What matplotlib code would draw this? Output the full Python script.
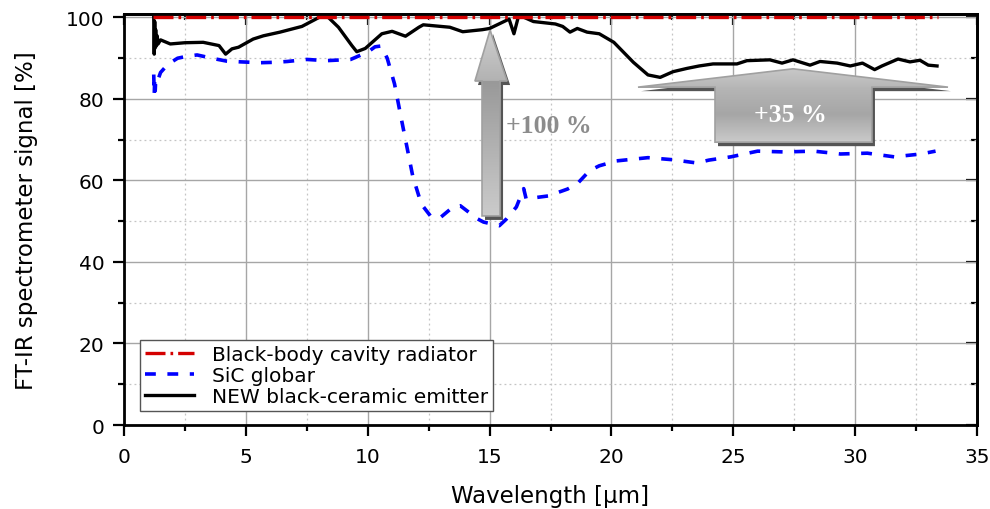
import numpy as np
import matplotlib
matplotlib.use('Agg')
import matplotlib.pyplot as plt
from matplotlib.patches import Polygon
from matplotlib.ticker import MultipleLocator
from matplotlib.colors import LinearSegmentedColormap
import matplotlib.transforms as mtransforms

# ---------------- data ----------------
red_x = [1.2, 33.4]
red_y = [100.0, 100.0]

blue_x = [1.22, 1.24, 1.26, 1.28, 1.30, 1.35, 1.5, 1.8, 2.2, 2.6, 3.0, 3.6, 4.2, 4.8,
          5.6, 6.2, 6.7, 7.5, 8.3, 9.3, 10.0, 10.3, 10.55, 10.8, 11.1, 11.4, 11.6,
          11.85, 12.2, 12.6, 13.0, 13.5, 13.8, 14.5, 14.75, 15.4, 15.7, 16.1, 16.4,
          16.5, 17.4, 18.2, 18.6, 19.1, 19.5, 20.2, 21.5, 22.5, 23.5, 24.0, 24.9,
          26.0, 27.1, 28.3, 29.4, 30.5, 31.6, 32.7, 33.3]
blue_y = [86.0, 81.0, 85.0, 82.0, 84.5, 84.0, 86.5, 88.5, 90.0, 90.5, 90.8, 90.0, 89.3,
          89.1, 88.9, 89.0, 89.2, 89.7, 89.4, 89.7, 91.5, 92.8, 93.0, 90.0, 83.7, 74.5,
          68.5, 61.0, 54.2, 51.1, 51.0, 53.5, 53.8, 50.6, 49.8, 48.9, 50.6, 53.5, 58.0,
          55.5, 56.2, 57.9, 59.2, 62.4, 63.6, 64.8, 65.6, 65.1, 64.3, 65.0, 65.8,
          67.2, 67.0, 67.2, 66.5, 66.7, 65.8, 66.5, 67.2]

black_x = [1.22, 1.24, 1.26, 1.28, 1.30, 1.33, 1.36, 1.40, 1.5, 1.9, 2.5, 3.25, 3.9,
           4.17, 4.43, 4.7, 5.3, 5.72, 6.4, 7.3, 8.0, 8.3, 8.8, 9.35, 9.55, 9.9,
           10.58, 11.0, 11.55, 12.1, 12.28, 13.37, 13.9, 14.7, 15.0, 15.8, 16.0,
           16.2, 16.8, 17.4, 17.7, 18.0, 18.3, 18.6, 19.0, 19.5, 20.1, 20.9, 21.5,
           22.0, 22.53, 23.1, 23.6, 24.17, 25.15, 25.56, 26.5, 27.0, 27.45, 28.15,
           28.56, 29.26, 29.8, 30.3, 30.8, 31.1, 31.76, 32.25, 32.66, 33.0, 33.36]
black_y = [100.0, 91.0, 99.0, 92.5, 97.0, 93.0, 95.5, 93.5, 94.5, 93.5, 93.8, 93.9, 93.1,
           91.0, 92.3, 92.7, 94.7, 95.5, 96.4, 97.8, 100.0, 100.5, 97.6, 93.1, 91.6,
           92.4, 96.0, 96.6, 95.4, 97.6, 98.2, 97.6, 96.5, 97.0, 97.3, 99.6, 96.0,
           100.6, 99.0, 98.6, 98.4, 97.8, 96.4, 97.3, 96.4, 96.0, 93.9, 89.0, 85.9,
           85.3, 86.7, 87.5, 88.1, 88.6, 88.6, 89.4, 89.6, 88.8, 89.6, 88.3,
           89.2, 88.8, 88.1, 88.8, 87.2, 88.1, 89.8, 89.1, 89.5, 88.3, 88.1]

labels = ['Black-body cavity radiator', 'SiC globar', 'NEW black-ceramic emitter']
x_ticks = [0, 5, 10, 15, 20, 25, 30, 35]
y_ticks = [0, 20, 40, 60, 80, 100]
ann_100 = '+100 %'
ann_35 = '+35 %'

# ---------------- figure ----------------
plt.rcParams['font.family'] = ['DejaVu Sans']
fig = plt.figure(figsize=(9.9, 5.1), dpi=100)
ax = fig.add_axes([124/990, 1 - 426/510, (977-124)/990, (426-15)/510])

ax.plot(red_x, red_y, color='#d40000', lw=2.4, ls=(0, (6.0, 1.5, 0.8, 1.5)),
        label=labels[0], zorder=4, solid_capstyle='butt', dash_capstyle='butt')
ax.plot(blue_x, blue_y, color='#0000ff', lw=2.6, ls=(0, (3.0, 3.2)),
        label=labels[1], zorder=3, dash_capstyle='butt')
ax.plot(black_x, black_y, color='black', lw=2.4, label=labels[2], zorder=3.5)

ax.set_xlim(0, 35)
ax.set_ylim(0, 100.85)
ax.set_xticks(x_ticks)
ax.set_yticks(y_ticks)
ax.xaxis.set_minor_locator(MultipleLocator(2.5))
ax.yaxis.set_minor_locator(MultipleLocator(10))

ax.set_axisbelow(True)
ax.grid(which='major', color='#a6a6a6', lw=1.0, ls='-')
ax.grid(which='minor', color='#c4c4c4', lw=0.9, ls=(0, (1.5, 2.5)))

for s in ax.spines.values():
    s.set_linewidth(2.0)
ax.tick_params(which='major', direction='out', length=8, width=1.6, labelsize=14.5, pad=6)
ax.tick_params(axis='x', which='major', pad=8)
ax.tick_params(which='minor', direction='out', length=4.5, width=1.6)

secx = ax.secondary_xaxis('top')
secx.set_xticks(x_ticks)
secx.xaxis.set_minor_locator(MultipleLocator(2.5))
secx.tick_params(which='major', direction='in', length=8, width=1.6, labeltop=False)
secx.tick_params(which='minor', direction='in', length=4, width=1.6)
secx.spines['top'].set_linewidth(2.0)
secy = ax.secondary_yaxis('right')
secy.set_yticks(y_ticks)
secy.yaxis.set_minor_locator(MultipleLocator(10))
secy.tick_params(which='major', direction='in', length=8, width=1.6, labelright=False)
secy.tick_params(which='minor', direction='in', length=4, width=1.6)
secy.spines['right'].set_linewidth(2.0)

ax.set_xlabel('Wavelength [\u03bcm]', fontsize=16.5, labelpad=13)
ax.set_ylabel('FT-IR spectrometer signal [%]', fontsize=16.5, labelpad=20)

leg = ax.legend(loc='lower left', bbox_to_anchor=(0.019, 0.034), borderaxespad=0,
                fontsize=14.5, frameon=True, fancybox=False, framealpha=1,
                handlelength=2.4, handletextpad=0.9, borderpad=0.25, labelspacing=0.1)
leg.get_frame().set_edgecolor('#555555')
leg.get_frame().set_linewidth(1.0)
leg.set_zorder(10)


def grad_arrow(verts, stops, edge='#a0a0a0'):
    ys = [v[1] for v in verts]
    xs = [v[0] for v in verts]
    y0, y1 = min(ys), max(ys)
    shadow_tr = mtransforms.offset_copy(ax.transData, fig=fig, x=3, y=-4, units='dots')
    sh = Polygon(verts, closed=True, facecolor='#555555', edgecolor='none',
                 transform=shadow_tr, zorder=5)
    ax.add_patch(sh)
    poly = Polygon(verts, closed=True, facecolor='none', edgecolor=edge, lw=1.2, zorder=7)
    ax.add_patch(poly)
    cm = LinearSegmentedColormap.from_list(
        'g', [((s - y0) / (y1 - y0), c) for s, c in stops])
    grad = np.linspace(0, 1, 256).reshape(-1, 1)
    im = ax.imshow(grad, extent=(min(xs), max(xs), y0, y1), origin='lower',
                   aspect='auto', cmap=cm, zorder=6, interpolation='bilinear')
    im.set_clip_path(poly)


# +100 % arrow
a_tip, a_hb, a_hl, a_hr, a_sl, a_sr, a_bot = (15.02, 96.9), 84.4, 14.4, 15.72, 14.69, 15.43, 51.3
grad_arrow([(a_sl, a_bot), (a_sr, a_bot), (a_sr, a_hb), (a_hr, a_hb), a_tip,
            (a_hl, a_hb), (a_sl, a_hb)],
           [(a_bot, '#cbcbcb'), (a_hb - 0.01, '#999999'), (a_hb, '#b2b2b2'), (a_tip[1], '#cfcfcf')])

# +35 % arrow
b_tip, b_hb, b_hl, b_hr, b_sl, b_sr, b_bot = (27.45, 87.4), 82.9, 21.09, 33.81, 24.25, 30.69, 69.4
grad_arrow([(b_sl, b_bot), (b_sr, b_bot), (b_sr, b_hb), (b_hr, b_hb), b_tip,
            (b_hl, b_hb), (b_sl, b_hb)],
           [(b_bot, '#cacaca'), ((b_bot + b_hb) / 2, '#a6a6a6'), (b_hb - 0.01, '#b6b6b6'),
            (b_hb, '#b8b8b8'), (b_tip[1], '#c8c8c8')])

ax.text(17.44, 73.4, ann_100, color='#8c8c8c', fontsize=18.5, fontweight='bold',
        family='Liberation Serif', ha='center', va='center', zorder=8)
ax.text(27.33, 76.1, ann_35, color='white', fontsize=18.5, fontweight='bold',
        family='Liberation Serif', ha='center', va='center', zorder=8)

ax.set_xlim(0, 35)
ax.set_ylim(0, 100.85)

fig.savefig('out.png', dpi=100)
